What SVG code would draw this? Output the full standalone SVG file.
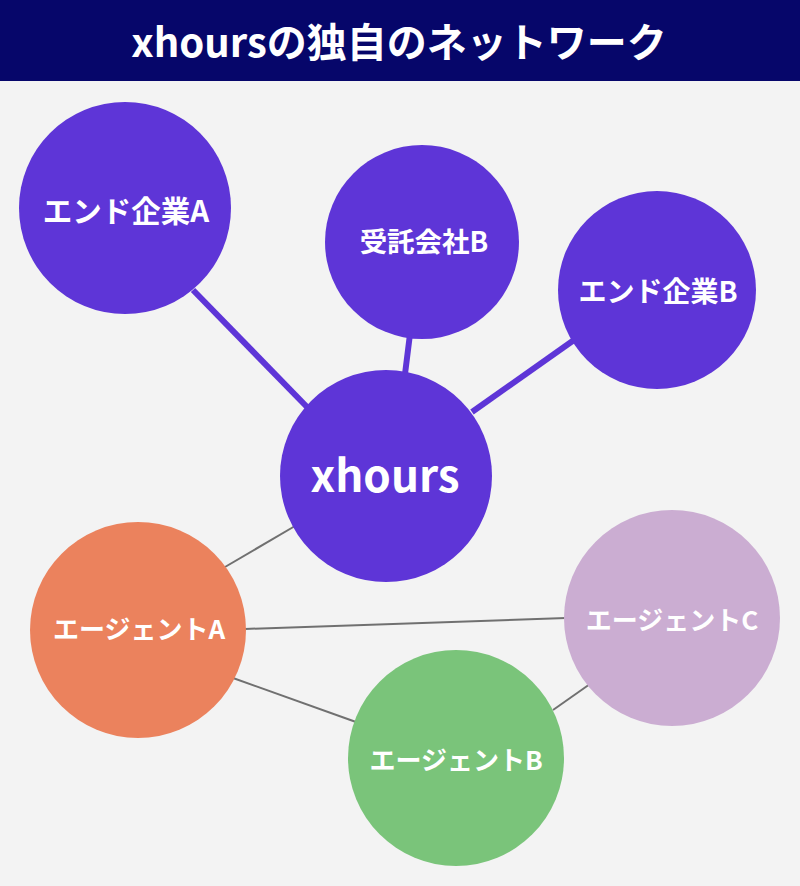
<svg xmlns="http://www.w3.org/2000/svg" width="800" height="886" viewBox="0 0 800 886">
<style>
.lbl{font-family:"Noto Sans CJK JP","Noto Sans",sans-serif;font-weight:700;fill:#fff;text-anchor:middle}
.thick{stroke:#5e35d7;stroke-width:6}
.thin{stroke:#707070;stroke-width:2}
.p{fill:#5e35d7}
</style>
<rect width="800" height="886" fill="#f3f3f3"/>
<rect width="800" height="81" fill="#06066a"/>
<text x="399" y="57" class="lbl" font-size="40">xhoursの独自のネットワーク</text>
<g id="connectors">
<line class="thick" x1="193" y1="290" x2="308" y2="408"/>
<line class="thick" x1="410" y1="334" x2="405" y2="374"/>
<line class="thick" x1="574" y1="340" x2="472" y2="412"/>
<line class="thin" x1="225" y1="567" x2="295" y2="526"/>
<line class="thin" x1="245" y1="629" x2="566" y2="618"/>
<line class="thin" x1="233" y1="678" x2="356" y2="722"/>
<line class="thin" x1="553" y1="710" x2="590" y2="684"/>
</g>
<g id="endA"><circle class="p" cx="125" cy="208" r="106"/><text class="lbl" x="126" y="222" font-size="29.5">エンド企業A</text></g>
<g id="jutakuB"><circle class="p" cx="422" cy="242" r="97"/><text class="lbl" x="424" y="252" font-size="27.5">受託会社B</text></g>
<g id="endB"><circle class="p" cx="657" cy="290" r="99"/><text class="lbl" x="658" y="302" font-size="28">エンド企業B</text></g>
<g id="xhours"><circle class="p" cx="386" cy="476" r="106"/><text class="lbl" x="385" y="492" font-size="44">xhours</text></g>
<g id="agentA"><circle fill="#eb825d" cx="138" cy="630" r="108"/><text class="lbl" x="139" y="639" font-size="26">エージェントA</text></g>
<g id="agentC"><circle fill="#cbadd2" cx="672" cy="618" r="108"/><text class="lbl" x="672" y="630" font-size="26">エージェントC</text></g>
<g id="agentB"><circle fill="#7ac47a" cx="456" cy="758" r="108"/><text class="lbl" x="456" y="770" font-size="26">エージェントB</text></g>
</svg>
